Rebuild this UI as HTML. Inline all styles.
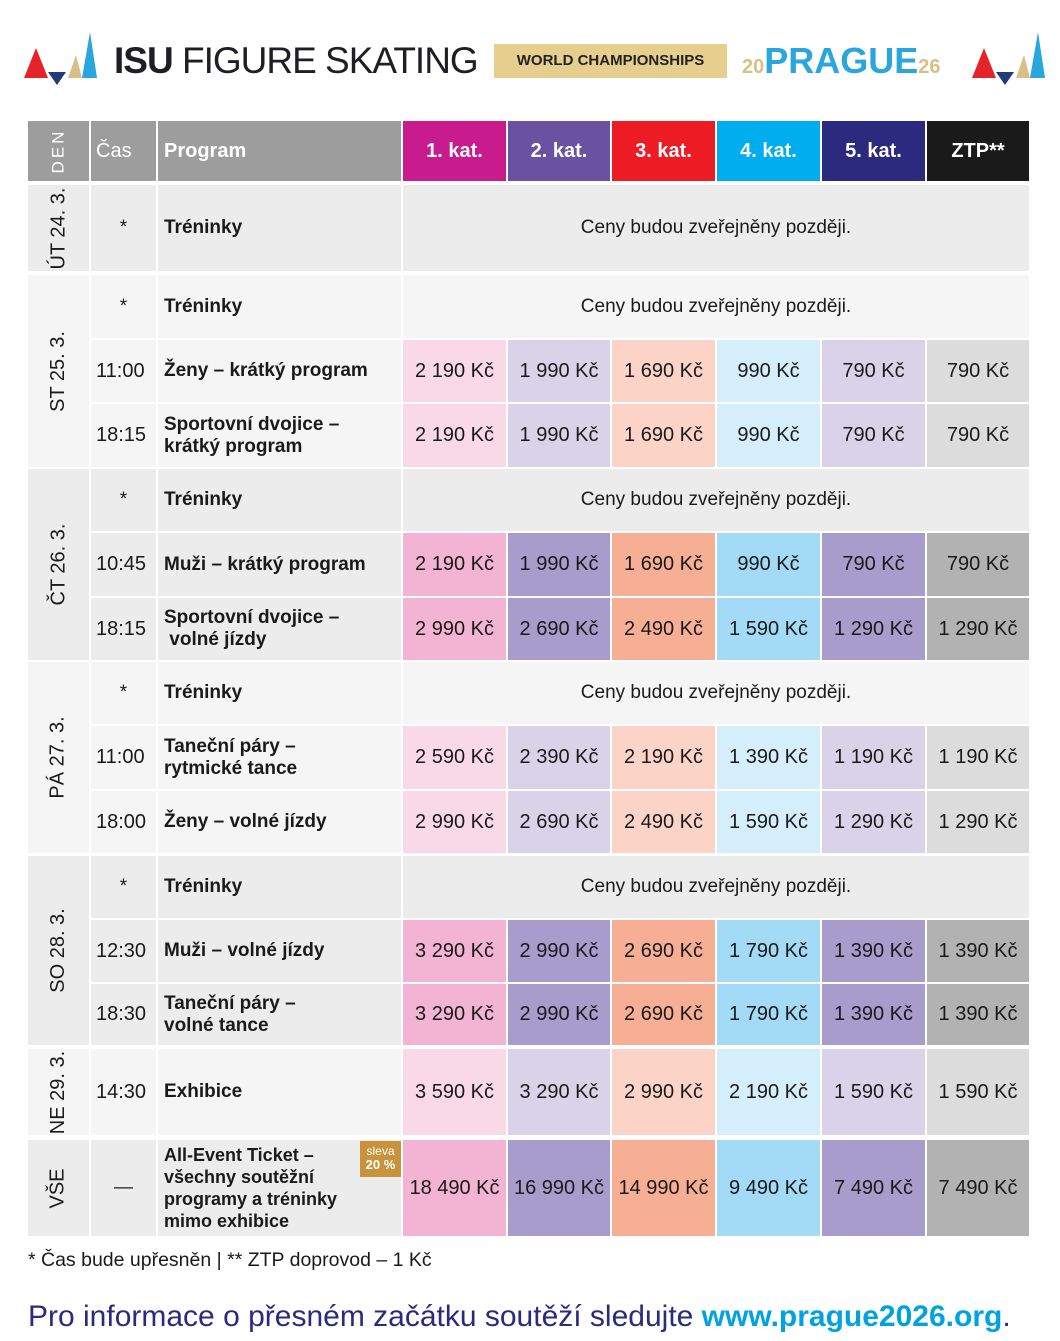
<!DOCTYPE html>
<html><head><meta charset="utf-8"><style>
body{margin:0;width:1060px;height:1341px;background:#fff;position:relative;font-family:"Liberation Sans",sans-serif;overflow:hidden}
.c{position:absolute;display:flex;align-items:center;box-sizing:border-box;color:#1a1a1a}
.p{justify-content:center;font-size:20px}
.b{font-weight:bold}
.d{justify-content:center}
.d span{transform:rotate(-90deg);white-space:nowrap;font-size:20px}
.h{color:#fff;font-weight:bold;font-size:20px;justify-content:center}
.t{font-size:20px;padding-left:5px}
.g{font-weight:bold;font-size:19px;padding-left:6px;line-height:22px}
.cn{justify-content:center;font-size:19px}
</style></head><body>
<svg style="position:absolute;left:0;top:20px" width="1060" height="70">
<polygon points="24,58 36,28 48,58" fill="#e52329"/><polygon points="48,52 66,52 57,65" fill="#1f3b7a"/><polygon points="68,58 76,35 82,58" fill="#d8bf86"/><polygon points="82,58 90,12 97,58" fill="#2aa6de"/>
<polygon points="972,58 984,28 996,58" fill="#e52329"/><polygon points="996,52 1014,52 1005,65" fill="#1f3b7a"/><polygon points="1016,58 1024,35 1030,58" fill="#d8bf86"/><polygon points="1030,58 1038,12 1045,58" fill="#2aa6de"/>
<rect x="494" y="24" width="233" height="34" fill="#e6cf8e"/>
</svg>
<div style="position:absolute;left:114px;top:40px;font-size:37px;font-weight:bold;color:#1e1e24;letter-spacing:-1px">ISU <span style="font-weight:normal">FIGURE SKATING</span></div>
<div style="position:absolute;left:494px;top:44px;width:233px;height:34px;line-height:34px;text-align:center;font-size:15px;font-weight:bold;color:#222">WORLD CHAMPIONSHIPS</div>
<div style="position:absolute;left:742px;top:40px;font-size:36px;font-weight:bold;color:#2aa6de"><span style="font-size:20px;color:#d8bf86">20</span>PRAGUE<span style="font-size:20px;color:#d8bf86">26</span></div>
<div class="c d" style="left:28px;top:121px;width:61px;height:60px;background:#9d9d9d"><span style="color:#fff;letter-spacing:3px;font-size:17px">DEN</span></div>
<div class="c t" style="left:91px;top:121px;width:65px;height:60px;background:#9d9d9d;color:#fff">Čas</div>
<div class="c g" style="left:158px;top:121px;width:243px;height:60px;background:#9d9d9d;color:#fff;font-size:20px">Program</div>
<div class="c h" style="left:403px;top:121px;width:103px;height:60px;background:#c81b8d">1. kat.</div>
<div class="c h" style="left:508px;top:121px;width:102px;height:60px;background:#6a51a2">2. kat.</div>
<div class="c h" style="left:612px;top:121px;width:103px;height:60px;background:#ed1c24">3. kat.</div>
<div class="c h" style="left:717px;top:121px;width:103px;height:60px;background:#00aeef">4. kat.</div>
<div class="c h" style="left:822px;top:121px;width:103px;height:60px;background:#2b2a7f">5. kat.</div>
<div class="c h" style="left:927px;top:121px;width:102px;height:60px;background:#1a1a1a">ZTP**</div>

<div class="c d" style="left:28px;top:185px;width:61px;height:86px;background:#ececec"><span>ÚT 24. 3.</span></div>
<div class="c cn" style="left:91px;top:185px;width:65px;height:86px;background:#ececec">*</div>
<div class="c g" style="left:158px;top:185px;width:243px;height:86px;background:#ececec">Tréninky</div>
<div class="c cn" style="left:403px;top:185px;width:626px;height:86px;background:#ececec">Ceny budou zveřejněny později.</div>

<div class="c d" style="left:28px;top:275px;width:61px;height:192px;background:#f5f5f5"><span>ST 25. 3.</span></div>
<div class="c cn" style="left:91px;top:275px;width:65px;height:63px;background:#f5f5f5">*</div>
<div class="c g" style="left:158px;top:275px;width:243px;height:63px;background:#f5f5f5">Tréninky</div>
<div class="c cn" style="left:403px;top:275px;width:626px;height:63px;background:#f5f5f5">Ceny budou zveřejněny později.</div>
<div class="c t" style="left:91px;top:340px;width:65px;height:62px;background:#f5f5f5">11:00</div>
<div class="c g" style="left:158px;top:340px;width:243px;height:62px;background:#f5f5f5">Ženy – krátký program</div>
<div class="c p" style="left:403px;top:340px;width:103px;height:62px;background:#f9d9e8">2 190 Kč</div>
<div class="c p" style="left:508px;top:340px;width:102px;height:62px;background:#d9d3ea">1 990 Kč</div>
<div class="c p" style="left:612px;top:340px;width:103px;height:62px;background:#fbd3c7">1 690 Kč</div>
<div class="c p" style="left:717px;top:340px;width:103px;height:62px;background:#d5eefb">990 Kč</div>
<div class="c p" style="left:822px;top:340px;width:103px;height:62px;background:#d9d3ea">790 Kč</div>
<div class="c p" style="left:927px;top:340px;width:102px;height:62px;background:#dcdcdc">790 Kč</div>
<div class="c t" style="left:91px;top:404px;width:65px;height:63px;background:#f5f5f5">18:15</div>
<div class="c g" style="left:158px;top:404px;width:243px;height:63px;background:#f5f5f5">Sportovní dvojice –<br>krátký program</div>
<div class="c p" style="left:403px;top:404px;width:103px;height:63px;background:#f9d9e8">2 190 Kč</div>
<div class="c p" style="left:508px;top:404px;width:102px;height:63px;background:#d9d3ea">1 990 Kč</div>
<div class="c p" style="left:612px;top:404px;width:103px;height:63px;background:#fbd3c7">1 690 Kč</div>
<div class="c p" style="left:717px;top:404px;width:103px;height:63px;background:#d5eefb">990 Kč</div>
<div class="c p" style="left:822px;top:404px;width:103px;height:63px;background:#d9d3ea">790 Kč</div>
<div class="c p" style="left:927px;top:404px;width:102px;height:63px;background:#dcdcdc">790 Kč</div>

<div class="c d" style="left:28px;top:469px;width:61px;height:191px;background:#ececec"><span>ČT 26. 3.</span></div>
<div class="c cn" style="left:91px;top:469px;width:65px;height:62px;background:#ececec">*</div>
<div class="c g" style="left:158px;top:469px;width:243px;height:62px;background:#ececec">Tréninky</div>
<div class="c cn" style="left:403px;top:469px;width:626px;height:62px;background:#ececec">Ceny budou zveřejněny později.</div>
<div class="c t" style="left:91px;top:533px;width:65px;height:63px;background:#ececec">10:45</div>
<div class="c g" style="left:158px;top:533px;width:243px;height:63px;background:#ececec">Muži – krátký program</div>
<div class="c p" style="left:403px;top:533px;width:103px;height:63px;background:#f3b3d3">2 190 Kč</div>
<div class="c p" style="left:508px;top:533px;width:102px;height:63px;background:#a79ccc">1 990 Kč</div>
<div class="c p" style="left:612px;top:533px;width:103px;height:63px;background:#f6ae94">1 690 Kč</div>
<div class="c p" style="left:717px;top:533px;width:103px;height:63px;background:#a3daf6">990 Kč</div>
<div class="c p" style="left:822px;top:533px;width:103px;height:63px;background:#a79ccc">790 Kč</div>
<div class="c p" style="left:927px;top:533px;width:102px;height:63px;background:#b2b2b2">790 Kč</div>
<div class="c t" style="left:91px;top:598px;width:65px;height:62px;background:#ececec">18:15</div>
<div class="c g" style="left:158px;top:598px;width:243px;height:62px;background:#ececec">Sportovní dvojice –<br>&nbsp;volné jízdy</div>
<div class="c p" style="left:403px;top:598px;width:103px;height:62px;background:#f3b3d3">2 990 Kč</div>
<div class="c p" style="left:508px;top:598px;width:102px;height:62px;background:#a79ccc">2 690 Kč</div>
<div class="c p" style="left:612px;top:598px;width:103px;height:62px;background:#f6ae94">2 490 Kč</div>
<div class="c p" style="left:717px;top:598px;width:103px;height:62px;background:#a3daf6">1 590 Kč</div>
<div class="c p" style="left:822px;top:598px;width:103px;height:62px;background:#a79ccc">1 290 Kč</div>
<div class="c p" style="left:927px;top:598px;width:102px;height:62px;background:#b2b2b2">1 290 Kč</div>

<div class="c d" style="left:28px;top:662px;width:61px;height:191px;background:#f5f5f5"><span>PÁ 27. 3.</span></div>
<div class="c cn" style="left:91px;top:662px;width:65px;height:62px;background:#f5f5f5">*</div>
<div class="c g" style="left:158px;top:662px;width:243px;height:62px;background:#f5f5f5">Tréninky</div>
<div class="c cn" style="left:403px;top:662px;width:626px;height:62px;background:#f5f5f5">Ceny budou zveřejněny později.</div>
<div class="c t" style="left:91px;top:726px;width:65px;height:63px;background:#f5f5f5">11:00</div>
<div class="c g" style="left:158px;top:726px;width:243px;height:63px;background:#f5f5f5">Taneční páry –<br>rytmické tance</div>
<div class="c p" style="left:403px;top:726px;width:103px;height:63px;background:#f9d9e8">2 590 Kč</div>
<div class="c p" style="left:508px;top:726px;width:102px;height:63px;background:#d9d3ea">2 390 Kč</div>
<div class="c p" style="left:612px;top:726px;width:103px;height:63px;background:#fbd3c7">2 190 Kč</div>
<div class="c p" style="left:717px;top:726px;width:103px;height:63px;background:#d5eefb">1 390 Kč</div>
<div class="c p" style="left:822px;top:726px;width:103px;height:63px;background:#d9d3ea">1 190 Kč</div>
<div class="c p" style="left:927px;top:726px;width:102px;height:63px;background:#dcdcdc">1 190 Kč</div>
<div class="c t" style="left:91px;top:791px;width:65px;height:62px;background:#f5f5f5">18:00</div>
<div class="c g" style="left:158px;top:791px;width:243px;height:62px;background:#f5f5f5">Ženy – volné jízdy</div>
<div class="c p" style="left:403px;top:791px;width:103px;height:62px;background:#f9d9e8">2 990 Kč</div>
<div class="c p" style="left:508px;top:791px;width:102px;height:62px;background:#d9d3ea">2 690 Kč</div>
<div class="c p" style="left:612px;top:791px;width:103px;height:62px;background:#fbd3c7">2 490 Kč</div>
<div class="c p" style="left:717px;top:791px;width:103px;height:62px;background:#d5eefb">1 590 Kč</div>
<div class="c p" style="left:822px;top:791px;width:103px;height:62px;background:#d9d3ea">1 290 Kč</div>
<div class="c p" style="left:927px;top:791px;width:102px;height:62px;background:#dcdcdc">1 290 Kč</div>

<div class="c d" style="left:28px;top:856px;width:61px;height:189px;background:#ececec"><span>SO 28. 3.</span></div>
<div class="c cn" style="left:91px;top:856px;width:65px;height:62px;background:#ececec">*</div>
<div class="c g" style="left:158px;top:856px;width:243px;height:62px;background:#ececec">Tréninky</div>
<div class="c cn" style="left:403px;top:856px;width:626px;height:62px;background:#ececec">Ceny budou zveřejněny později.</div>
<div class="c t" style="left:91px;top:920px;width:65px;height:62px;background:#ececec">12:30</div>
<div class="c g" style="left:158px;top:920px;width:243px;height:62px;background:#ececec">Muži – volné jízdy</div>
<div class="c p" style="left:403px;top:920px;width:103px;height:62px;background:#f3b3d3">3 290 Kč</div>
<div class="c p" style="left:508px;top:920px;width:102px;height:62px;background:#a79ccc">2 990 Kč</div>
<div class="c p" style="left:612px;top:920px;width:103px;height:62px;background:#f6ae94">2 690 Kč</div>
<div class="c p" style="left:717px;top:920px;width:103px;height:62px;background:#a3daf6">1 790 Kč</div>
<div class="c p" style="left:822px;top:920px;width:103px;height:62px;background:#a79ccc">1 390 Kč</div>
<div class="c p" style="left:927px;top:920px;width:102px;height:62px;background:#b2b2b2">1 390 Kč</div>
<div class="c t" style="left:91px;top:984px;width:65px;height:61px;background:#ececec">18:30</div>
<div class="c g" style="left:158px;top:984px;width:243px;height:61px;background:#ececec">Taneční páry –<br>volné tance</div>
<div class="c p" style="left:403px;top:984px;width:103px;height:61px;background:#f3b3d3">3 290 Kč</div>
<div class="c p" style="left:508px;top:984px;width:102px;height:61px;background:#a79ccc">2 990 Kč</div>
<div class="c p" style="left:612px;top:984px;width:103px;height:61px;background:#f6ae94">2 690 Kč</div>
<div class="c p" style="left:717px;top:984px;width:103px;height:61px;background:#a3daf6">1 790 Kč</div>
<div class="c p" style="left:822px;top:984px;width:103px;height:61px;background:#a79ccc">1 390 Kč</div>
<div class="c p" style="left:927px;top:984px;width:102px;height:61px;background:#b2b2b2">1 390 Kč</div>

<div class="c d" style="left:28px;top:1049px;width:61px;height:86px;background:#f5f5f5"><span>NE 29. 3.</span></div>
<div class="c t" style="left:91px;top:1049px;width:65px;height:86px;background:#f5f5f5">14:30</div>
<div class="c g" style="left:158px;top:1049px;width:243px;height:86px;background:#f5f5f5">Exhibice</div>
<div class="c p" style="left:403px;top:1049px;width:103px;height:86px;background:#f9d9e8">3 590 Kč</div>
<div class="c p" style="left:508px;top:1049px;width:102px;height:86px;background:#d9d3ea">3 290 Kč</div>
<div class="c p" style="left:612px;top:1049px;width:103px;height:86px;background:#fbd3c7">2 990 Kč</div>
<div class="c p" style="left:717px;top:1049px;width:103px;height:86px;background:#d5eefb">2 190 Kč</div>
<div class="c p" style="left:822px;top:1049px;width:103px;height:86px;background:#d9d3ea">1 590 Kč</div>
<div class="c p" style="left:927px;top:1049px;width:102px;height:86px;background:#dcdcdc">1 590 Kč</div>

<div class="c d" style="left:28px;top:1140px;width:61px;height:96px;background:#ececec"><span>VŠE</span></div>
<div class="c cn" style="left:91px;top:1140px;width:65px;height:96px;background:#ececec">—</div>
<div class="c g" style="left:158px;top:1140px;width:243px;height:96px;background:#ececec;font-size:18px">All-Event Ticket –<br>všechny soutěžní<br>programy a tréninky<br>mimo exhibice</div>
<div style="position:absolute;left:360px;top:1141px;width:41px;height:36px;background:#c9933e;color:#fff;font-size:12px;line-height:14px;text-align:center;padding-top:3px;box-sizing:border-box">sleva<br><b style="font-size:13px">20 %</b></div>
<div class="c p" style="left:403px;top:1140px;width:103px;height:96px;background:#f3b3d3">18 490 Kč</div>
<div class="c p" style="left:508px;top:1140px;width:102px;height:96px;background:#a79ccc">16 990 Kč</div>
<div class="c p" style="left:612px;top:1140px;width:103px;height:96px;background:#f6ae94">14 990 Kč</div>
<div class="c p" style="left:717px;top:1140px;width:103px;height:96px;background:#a3daf6">9 490 Kč</div>
<div class="c p" style="left:822px;top:1140px;width:103px;height:96px;background:#a79ccc">7 490 Kč</div>
<div class="c p" style="left:927px;top:1140px;width:102px;height:96px;background:#b2b2b2">7 490 Kč</div>

<div style="position:absolute;left:28px;top:1249px;font-size:19.5px;color:#1a1a1a">* Čas bude upřesněn | ** ZTP doprovod – 1 Kč</div>
<div style="position:absolute;left:28px;top:1300px;font-size:30px;color:#2b2a7f;white-space:nowrap">Pro informace o přesném začátku soutěží sledujte <b style="color:#00a3e0">www.prague2026.org</b>.</div>
</body></html>
